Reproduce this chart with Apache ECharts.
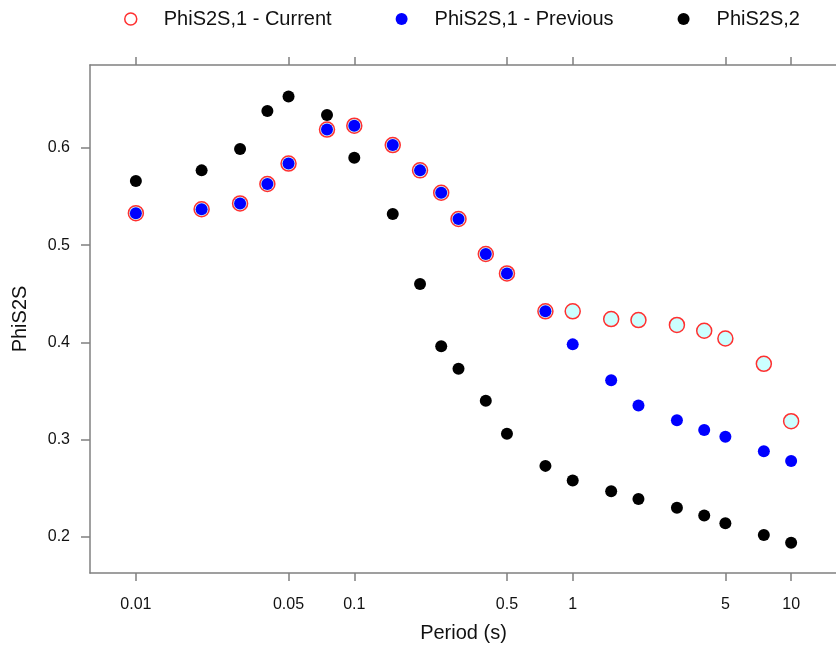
<!DOCTYPE html>
<html>
<head>
<meta charset="utf-8">
<script src="https://cdn.jsdelivr.net/npm/echarts@6/dist/echarts.min.js"></script>
<style>
  html, body { margin: 0; padding: 0; background: #fff; }
  #main { width: 836px; height: 650px; }
</style>
</head>
<body>
<div id="main"></div>
<script>
// periods (s)
const periods = [0.01, 0.02, 0.03, 0.04, 0.05, 0.075, 0.1, 0.15, 0.2, 0.25, 0.3, 0.4, 0.5, 0.75, 1, 1.5, 2, 3, 4, 5, 7.5, 10];

const phiCurrent = [0.533, 0.537, 0.543, 0.563, 0.584, 0.619, 0.623, 0.603, 0.577, 0.554, 0.527, 0.491, 0.471, 0.432,
  0.432, 0.424, 0.423, 0.418, 0.412, 0.404, 0.378, 0.319];
const phiPrevious = [0.533, 0.537, 0.543, 0.563, 0.584, 0.619, 0.623, 0.603, 0.577, 0.554, 0.527, 0.491, 0.471, 0.432,
  0.398, 0.361, 0.335, 0.320, 0.310, 0.303, 0.288, 0.278];
const phi2 = [0.566, 0.577, 0.599, 0.638, 0.653, 0.634, 0.590, 0.532, 0.460, 0.396, 0.373, 0.340, 0.306, 0.273,
  0.258, 0.247, 0.239, 0.230, 0.222, 0.214, 0.202, 0.194];

const xTicks = [0.01, 0.05, 0.1, 0.5, 1, 5, 10];
const yTicks = [0.2, 0.3, 0.4, 0.5, 0.6];

const seriesNames = ["PhiS2S,1 - Current", "PhiS2S,1 - Previous", "PhiS2S,2"];

const chart = echarts.init(document.getElementById("main"));

// x axis runs on log10(period)
const toPts = (vals) => periods.map((p, i) => [Math.log10(p), vals[i]]);
const xTickPos = xTicks.map((t) => Math.log10(t));
const fmtX = (v) => String(Number(Math.pow(10, v).toPrecision(3)));

const axisCol = "#808080";
const txtCol = "#111";
const font = "Liberation Sans, Arial, sans-serif";

chart.setOption({
  animation: false,
  textStyle: { fontFamily: font },
  grid: {
    left: 90,
    top: 65,
    right: -1,
    bottom: 77,
    outerBoundsMode: "none",
  },
  legend: {
    left: 124,
    top: 9,
    padding: 0,
    itemWidth: 56,
    itemHeight: 12,
    itemGap: 64,
    textStyle: { fontSize: 20, color: txtCol, fontFamily: font },
    data: [
      {
        name: seriesNames[0],
        icon: "circle",
        itemStyle: { color: "#fff", borderColor: "#ff3030", borderWidth: 1.5 },
      },
      { name: seriesNames[1], icon: "circle" },
      { name: seriesNames[2], icon: "circle" },
    ],
  },
  xAxis: [
    {
      type: "value",
      min: -2.21,
      max: 1.21,
      name: "Period (s)",
      nameLocation: "middle",
      nameGap: 50,
      nameTextStyle: { fontSize: 20, color: txtCol },
      splitLine: { show: false },
      axisLine: { onZero: false, lineStyle: { color: axisCol, width: 1.5 } },
      axisTick: {
        length: 8,
        customValues: xTickPos,
        lineStyle: { color: axisCol, width: 1.5 },
      },
      axisLabel: {
        customValues: xTickPos,
        formatter: fmtX,
        fontSize: 16,
        color: txtCol,
        margin: 24,
      },
    },
    {
      type: "value",
      position: "top",
      min: -2.21,
      max: 1.21,
      splitLine: { show: false },
      axisLine: { onZero: false, lineStyle: { color: axisCol, width: 1.5 } },
      axisTick: {
        length: 8,
        customValues: xTickPos,
        lineStyle: { color: axisCol, width: 1.5 },
      },
      axisLabel: { show: false },
    },
  ],
  yAxis: {
    type: "value",
    position: "left",
    min: 0.1628,
    max: 0.6854,
    name: "PhiS2S",
    nameLocation: "middle",
    nameGap: 60,
    nameTextStyle: { fontSize: 20, color: txtCol },
    splitLine: { show: false },
    axisLine: { show: true, onZero: false, lineStyle: { color: axisCol, width: 1.5 } },
    axisTick: {
      show: true,
      length: 9,
      customValues: yTicks,
      lineStyle: { color: axisCol, width: 1.5 },
    },
    axisLabel: {
      customValues: yTicks,
      formatter: (v) => v.toFixed(1),
      fontSize: 16,
      color: txtCol,
      margin: 20,
    },
  },
  series: [
    {
      name: seriesNames[0],
      type: "scatter",
      xAxisIndex: 0,
      symbol: "circle",
      symbolSize: 15,
      z: 1,
      itemStyle: { color: "#ccffff", borderColor: "#ff3030", borderWidth: 1.5, opacity: 1 },
      emphasis: { disabled: true },
      data: toPts(phiCurrent),
    },
    {
      name: seriesNames[1],
      type: "scatter",
      xAxisIndex: 0,
      symbol: "circle",
      symbolSize: 12,
      z: 2,
      itemStyle: { color: "#0000ff", opacity: 1 },
      emphasis: { disabled: true },
      data: toPts(phiPrevious),
    },
    {
      name: seriesNames[2],
      type: "scatter",
      xAxisIndex: 0,
      symbol: "circle",
      symbolSize: 12,
      z: 3,
      itemStyle: { color: "#000", opacity: 1 },
      emphasis: { disabled: true },
      data: toPts(phi2),
    },
  ],
});

window.addEventListener("resize", () => {
  chart.resize();
});
</script>
</body>
</html>
